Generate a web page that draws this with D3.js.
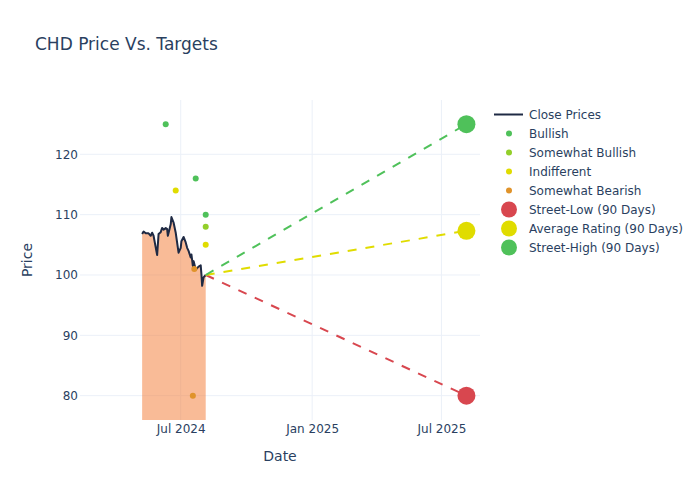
<!DOCTYPE html>
<html><head><meta charset="utf-8">
<script src="https://cdn.jsdelivr.net/npm/d3@7"></script>
<style>body{margin:0;background:#fff} text{font-family:"DejaVu Sans",Verdana,sans-serif}</style>
</head><body><svg id="c" width="700" height="500"></svg>
<script>
const closeDates = ["2024-05-08","2024-05-10","2024-05-13","2024-05-17","2024-05-20","2024-05-22","2024-05-24","2024-05-29","2024-05-31","2024-06-03","2024-06-05","2024-06-07","2024-06-10","2024-06-12","2024-06-13","2024-06-17","2024-06-18","2024-06-21","2024-06-24","2024-06-28","2024-07-01","2024-07-02","2024-07-05","2024-07-08","2024-07-10","2024-07-12","2024-07-15","2024-07-16","2024-07-18","2024-07-19","2024-07-22","2024-07-23","2024-07-26","2024-07-29","2024-07-30","2024-07-31","2024-08-02","2024-08-05"];
const closePrices = [106.8,107.2,106.9,106.9,106.5,107.0,106.5,103.3,106.8,107.1,107.8,107.5,107.8,107.6,106.5,108.4,109.6,108.7,107.0,103.7,104.5,105.6,106.3,105.4,104.5,104.0,102.9,103.4,101.5,102.3,100.9,101.0,101.4,101.6,100.1,98.2,99.6,100.0];

const bullishDates = ["2024-06-10","2024-07-22","2024-08-05"];
const bullishValues = [125,116,110];
const somewhatBullishDates = ["2024-08-05"];
const somewhatBullishValues = [108];
const indifferentDates = ["2024-06-24","2024-08-05"];
const indifferentValues = [114,105];
const somewhatBearishDates = ["2024-07-18","2024-07-20"];
const somewhatBearishValues = [80,101];

const targetDate = "2025-08-05";
const targetNames = ["Street-Low (90 Days)","Average Rating (90 Days)","Street-High (90 Days)"];
const targetValues = [80,107.33,125];

const xTickValues = ["2024-07-01","2025-01-01","2025-07-01"];
const xTickLabels = ["Jul 2024","Jan 2025","Jul 2025"];
const yTickValues = [80,90,100,110,120];

const legendNames = ["Close Prices","Bullish","Somewhat Bullish","Indifferent","Somewhat Bearish","Street-Low (90 Days)","Average Rating (90 Days)","Street-High (90 Days)"];

const C = {text:"#2a3f5f", grid:"#ebf0f8", line:"#1f2a44", fill:"rgb(243,120,48)",
  bull:"#4fc15a", sbull:"#93cf2a", indiff:"#e0dc00", sbear:"#e0932a", low:"#d8474f", avg:"#e0dc00", high:"#4fc15a"};

const P = d3.timeParse("%Y-%m-%d");
const svg = d3.select("#c");
const L=80,R=480,T=100,B=420;
const x = d3.scaleTime().domain([P("2024-02-11"),P("2025-08-24")]).range([L,R]);
const y = d3.scaleLinear().domain([75.97,129.0]).range([B,T]);

svg.append("defs").append("clipPath").attr("id","clip").append("rect")
  .attr("x",L).attr("y",T).attr("width",R-L).attr("height",B-T);

// grid
const g = svg.append("g");
g.selectAll("line.gy").data(yTickValues).join("line")
  .attr("x1",L).attr("x2",R).attr("y1",d=>y(d)).attr("y2",d=>y(d))
  .attr("stroke",C.grid).attr("stroke-width",1);
g.selectAll("line.gx").data(xTickValues).join("line")
  .attr("y1",T).attr("y2",B).attr("x1",d=>x(P(d))).attr("x2",d=>x(P(d)))
  .attr("stroke",C.grid).attr("stroke-width",1);

// axes
const xAxis = d3.axisBottom(x).tickValues(xTickValues.map(P)).tickFormat((d,i)=>xTickLabels[i]).tickSize(0).tickPadding(0);
const xa = svg.append("g").attr("transform",`translate(0,${B})`).call(xAxis);
xa.select(".domain").remove();
xa.selectAll("text").attr("fill",C.text).attr("font-size",12).attr("y",13).attr("dy",0).attr("font-family","DejaVu Sans");
const yAxis = d3.axisLeft(y).tickValues(yTickValues).tickSize(0).tickPadding(2);
const ya = svg.append("g").attr("transform",`translate(${L},0)`).call(yAxis);
ya.select(".domain").remove();
ya.selectAll("text").attr("fill",C.text).attr("font-size",12).attr("font-family","DejaVu Sans");

const data = closeDates.map((d,i)=>({d:P(d),v:closePrices[i]}));
const plot = svg.append("g").attr("clip-path","url(#clip)");
plot.append("path").datum(data)
  .attr("d",d3.area().x(p=>x(p.d)).y0(y(y.domain()[0])).y1(p=>y(p.v)))
  .attr("fill",C.fill).attr("fill-opacity",0.5);
plot.append("path").datum(data)
  .attr("d",d3.line().x(p=>x(p.d)).y(p=>y(p.v)))
  .attr("fill","none").attr("stroke",C.line).attr("stroke-width",2).attr("stroke-linejoin","round");

// dashed target lines
const last = data[data.length-1];
const tColors = [C.low,C.avg,C.high];
targetValues.forEach((v,i)=>{
  plot.append("line").attr("x1",x(last.d)).attr("y1",y(last.v)).attr("x2",x(P(targetDate))).attr("y2",y(v))
    .attr("stroke",tColors[i]).attr("stroke-width",2).attr("stroke-dasharray","9,9");
});

function dots(dates,vals,color,r){
  plot.append("g").selectAll("circle").data(dates.map((d,i)=>({d:P(d),v:vals[i]}))).join("circle")
    .attr("cx",p=>x(p.d)).attr("cy",p=>y(p.v)).attr("r",r).attr("fill",color);
}
dots(bullishDates,bullishValues,C.bull,3);
dots(somewhatBullishDates,somewhatBullishValues,C.sbull,3);
dots(indifferentDates,indifferentValues,C.indiff,3);
dots(somewhatBearishDates,somewhatBearishValues,C.sbear,3);
targetValues.forEach((v,i)=>dots([targetDate],[v],tColors[i],9));

// titles
svg.append("text").attr("x",35).attr("y",50).attr("font-size",17).attr("fill",C.text).text("CHD Price Vs. Targets");
svg.append("text").attr("x",(L+R)/2).attr("y",461).attr("text-anchor","middle").attr("font-size",14).attr("fill",C.text).text("Date");
svg.append("text").attr("transform",`translate(32,${(T+B)/2}) rotate(-90)`).attr("text-anchor","middle").attr("font-size",14).attr("fill",C.text).text("Price");

// legend
const lg = svg.append("g");
const legColors = [C.line,C.bull,C.sbull,C.indiff,C.sbear,C.low,C.avg,C.high];
legendNames.forEach((n,i)=>{
  const cy = 114.5 + i*19;
  if(i===0){
    lg.append("line").attr("x1",494).attr("x2",523).attr("y1",cy).attr("y2",cy).attr("stroke",C.line).attr("stroke-width",2);
  } else {
    lg.append("circle").attr("cx",509).attr("cy",cy).attr("r",i>=5?8:3).attr("fill",legColors[i]);
  }
  lg.append("text").attr("x",529).attr("y",cy).attr("dy","0.35em").attr("font-size",12).attr("fill",C.text).text(n);
});
</script></body></html>
